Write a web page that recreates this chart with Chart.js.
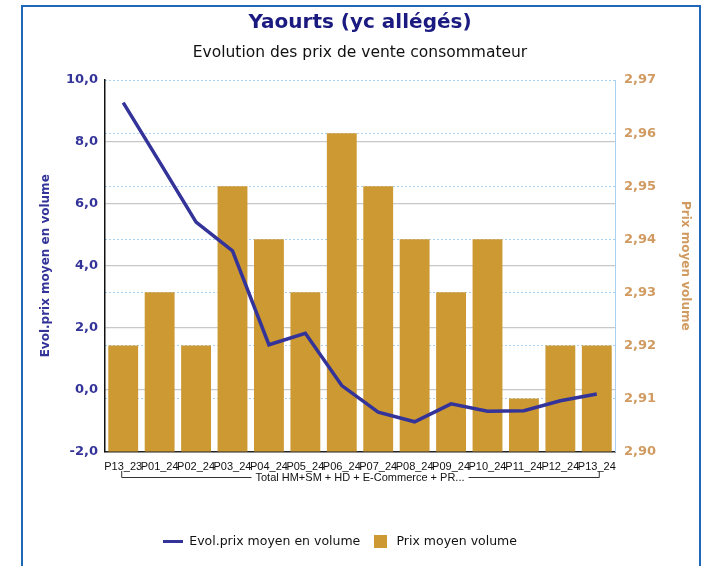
<!DOCTYPE html>
<html>
<head>
<meta charset="utf-8">
<script src="https://cdn.jsdelivr.net/npm/chart.js@4.4.1/dist/chart.umd.min.js"></script>
<style>
html,body{margin:0;padding:0;background:#fff;}
#wrap{width:702px;height:566px;position:relative;}
</style>
</head>
<body>
<div id="wrap"><canvas id="c" width="702" height="566"></canvas></div>
<script>
const categories = ["P13_23","P01_24","P02_24","P03_24","P04_24","P05_24","P06_24","P07_24","P08_24","P09_24","P10_24","P11_24","P12_24","P13_24"];
const evolPrix = [9.27, 7.35, 5.41, 4.48, 1.45, 1.82, 0.13, -0.73, -1.04, -0.46, -0.70, -0.68, -0.36, -0.14];
const prixMoyen = [2.92, 2.93, 2.92, 2.95, 2.94, 2.93, 2.96, 2.95, 2.94, 2.93, 2.94, 2.91, 2.92, 2.92];
const groupLabel = "Total HM+SM + HD + E-Commerce + PR...";
const leftTicks = [-2, 0, 2, 4, 6, 8, 10];
const rightTicks = [2.90, 2.91, 2.92, 2.93, 2.94, 2.95, 2.96, 2.97];

const LINE_COLOR = '#333399';
const BAR_COLOR = '#cc9933';

function makeSwatch(w, h, color) {
  const c = document.createElement('canvas');
  c.width = w; c.height = h;
  const g = c.getContext('2d');
  g.fillStyle = color;
  g.fillRect(0, 0, w, h);
  return c;
}
const lineSwatch = makeSwatch(20, 3, LINE_COLOR);
const barSwatch = makeSwatch(13, 13, BAR_COLOR);

const frame = {
  id: 'frame',
  beforeDraw(chart) {
    const ctx = chart.ctx;
    ctx.save();
    ctx.fillStyle = '#fff';
    ctx.fillRect(0, 0, chart.width, chart.height);
    ctx.strokeStyle = '#1f67b8';
    ctx.lineWidth = 2;
    ctx.strokeRect(22, 6, 678, 620);
    ctx.restore();
  },
  afterLayout(chart) {
    if (chart.legend) { chart.legend.right -= 40; }
  }
};

const groupBracket = {
  id: 'groupBracket',
  afterDraw(chart) {
    const x = chart.scales.x;
    const ctx = chart.ctx;
    const x0 = x.getPixelForValue(0) - 2;
    const x1 = x.getPixelForValue(categories.length - 1) + 2;
    const y = 477;
    ctx.save();
    ctx.font = '11px "Liberation Sans", Arial, sans-serif';
    const tw = ctx.measureText(groupLabel).width;
    const cx = (x0 + x1) / 2;
    ctx.strokeStyle = '#333';
    ctx.lineWidth = 1;
    ctx.beginPath();
    ctx.moveTo(x0 + 0.5, 471); ctx.lineTo(x0 + 0.5, y + 0.5); ctx.lineTo(cx - tw / 2 - 4, y + 0.5);
    ctx.moveTo(cx + tw / 2 + 4, y + 0.5); ctx.lineTo(x1 + 0.5, y + 0.5); ctx.lineTo(x1 + 0.5, 471);
    ctx.stroke();
    ctx.fillStyle = '#111';
    ctx.textAlign = 'center';
    ctx.textBaseline = 'middle';
    ctx.fillText(groupLabel, cx, y + 0.5);
    ctx.restore();
  }
};

const fmt1 = v => v.toFixed(1).replace('.', ',');
const fmt2 = v => v.toFixed(2).replace('.', ',');

new Chart(document.getElementById('c'), {
  data: {
    labels: categories,
    datasets: [
      {
        type: 'line',
        label: 'Evol.prix moyen en volume',
        data: evolPrix,
        yAxisID: 'y',
        borderColor: LINE_COLOR,
        backgroundColor: LINE_COLOR,
        borderWidth: 3.5,
        pointRadius: 0,
        tension: 0,
        order: 0
      },
      {
        type: 'bar',
        label: 'Prix moyen volume',
        data: prixMoyen,
        yAxisID: 'y1',
        backgroundColor: BAR_COLOR,
        borderWidth: 0,
        barPercentage: 0.82,
        categoryPercentage: 1.0,
        order: 1
      }
    ]
  },
  options: {
    responsive: false,
    animation: false,
    devicePixelRatio: 1,
    layout: { padding: { top: 8, left: 25, right: 7, bottom: 8 } },
    plugins: {
      title: {
        display: true,
        text: 'Yaourts (yc allégés)',
        color: '#1a1a80',
        font: { family: '"DejaVu Sans", sans-serif', size: 20, weight: 'bold' },
        padding: { top: 3, bottom: 4 }
      },
      subtitle: {
        display: true,
        text: 'Evolution des prix de vente consommateur',
        color: '#111',
        font: { family: '"DejaVu Sans", sans-serif', size: 15.5 },
        padding: { top: 5, bottom: 17.5 }
      },
      legend: {
        position: 'bottom',
        labels: {
          color: '#111',
          font: { family: '"DejaVu Sans", sans-serif', size: 12.5 },
          usePointStyle: true,
          pointStyleWidth: 20,
          boxHeight: 13,
          padding: 10,
          generateLabels(chart) {
            return chart.data.datasets.map((ds, i) => ({
              text: ds.label,
              pointStyle: ds.type === 'line' ? lineSwatch : barSwatch,
              fillStyle: ds.type === 'line' ? LINE_COLOR : BAR_COLOR,
              strokeStyle: ds.type === 'line' ? LINE_COLOR : BAR_COLOR,
              lineWidth: 0,
              hidden: false,
              datasetIndex: i,
              fontColor: '#111'
            }));
          }
        }
      },
      tooltip: { enabled: false }
    },
    scales: {
      x: {
        offset: true,
        grid: { display: false, drawTicks: false },
        border: { display: true, color: '#222', width: 1.5 },
        ticks: {
          autoSkip: false, maxRotation: 0, minRotation: 0, padding: 9,
          color: '#111',
          font: { family: '"Liberation Sans", Arial, sans-serif', size: 11 }
        },
        afterFit(s) { s.height = 74; }
      },
      y: {
        position: 'left',
        min: -2, max: 10,
        afterBuildTicks(s) { s.ticks = leftTicks.map(v => ({ value: v })); },
        ticks: {
          padding: 7,
          color: '#333399',
          font: { family: '"DejaVu Sans", sans-serif', size: 13, weight: 'bold' },
          callback: v => fmt1(v)
        },
        grid: {
          drawTicks: false,
          color: ctx => (ctx.tick && (ctx.tick.value === 10 || ctx.tick.value === -2)) ? 'rgba(0,0,0,0)' : '#c8c8c8',
          lineWidth: 1.2
        },
        border: { display: true, color: '#111', width: 1.5 },
        title: {
          display: true,
          text: 'Evol.prix moyen en volume',
          color: '#333399',
          font: { family: '"DejaVu Sans", sans-serif', size: 12, weight: 'bold' },
          padding: { top: 14, bottom: 0 }
        },
        afterFit(s) { s.width = 80; }
      },
      y1: {
        position: 'right',
        min: 2.90, max: 2.97,
        afterBuildTicks(s) { s.ticks = rightTicks.map(v => ({ value: v })); },
        ticks: {
          padding: 9,
          color: '#d09a60',
          font: { family: '"DejaVu Sans", sans-serif', size: 13, weight: 'bold' },
          callback: v => fmt2(v)
        },
        grid: {
          drawTicks: false,
          color: '#a8d0f0',
          lineWidth: 1
        },
        border: { display: true, color: '#a8d0f0', width: 1, dash: [2, 2] },
        title: {
          display: true,
          text: 'Prix moyen volume',
          color: '#d09a60',
          font: { family: '"DejaVu Sans", sans-serif', size: 12, weight: 'bold' },
          padding: { top: 3, bottom: 0 }
        },
        afterFit(s) { s.width = 80; }
      }
    }
  },
  plugins: [frame, groupBracket]
});
</script>
</body>
</html>
